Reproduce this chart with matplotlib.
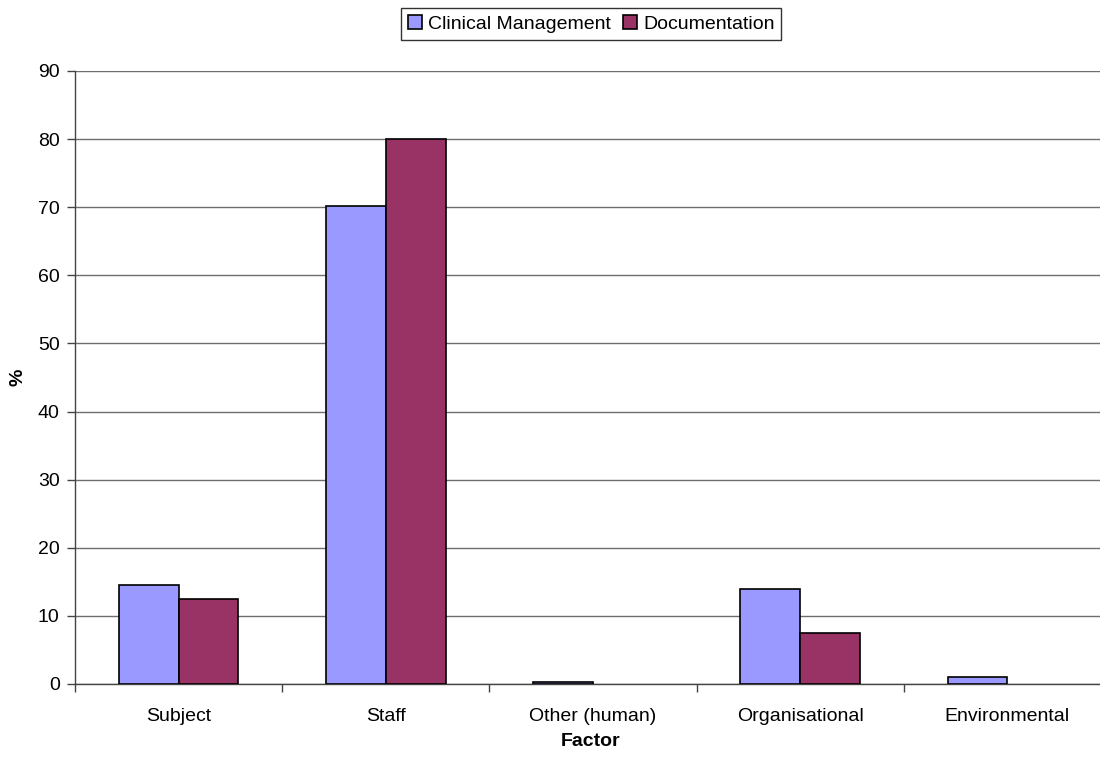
import matplotlib
matplotlib.use("Agg")
import matplotlib.pyplot as plt
import numpy as np

plt.rcParams['font.family'] = ['Liberation Sans', 'DejaVu Sans']

categories = ["Subject", "Staff", "Other (human)", "Organisational", "Environmental"]
clinical_management = [14.6, 70.2, 0.3, 13.9, 1.0]
documentation = [12.5, 80.0, 0.0, 7.5, 0.0]
series_names = ["Clinical Management", "Documentation"]
yticks = list(range(0, 91, 10))

fig = plt.figure(figsize=(11, 7.58), dpi=100)
ax = fig.add_axes([75/1100, 1-684/758, (1111-75)/1100, (684-71)/758])

x = np.arange(len(categories))
w = 0.2885
for offset, vals, color, name in [(-w, clinical_management, '#9999FF', series_names[0]),
                                  (0, documentation, '#993366', series_names[1])]:
    lws = [1.2 if v > 0 else 0 for v in vals]
    ax.bar(x + offset, vals, width=w, align='edge', color=color,
           edgecolor='black', linewidth=lws, label=name, zorder=3)

ax.set_xlim(-0.5, len(categories) - 0.5)
ax.set_ylim(0, 90)
ax.set_yticks(yticks)
ax.yaxis.grid(True, color='#6e6e6e', linewidth=1.0, zorder=0)
ax.set_axisbelow(True)

ax.set_xticks(np.arange(-0.5, len(categories) - 0.4, 1.0))
ax.set_xticklabels([])
ax.set_xticks(x, minor=True)
ax.set_xticklabels(categories, minor=True)
ax.tick_params(axis='x', which='major', length=6, width=1, color='#444444', direction='out')
ax.tick_params(axis='x', which='minor', length=0, labelsize=14, pad=17)
ax.tick_params(axis='y', length=6, width=1, color='#444444', labelsize=14, pad=5)

for s in ['top', 'right']:
    ax.spines[s].set_visible(False)
for s in ['left', 'bottom']:
    ax.spines[s].set_color('#444444')
    ax.spines[s].set_linewidth(1.0)

fig.text(591/1100, 1-742/758, "Factor", fontsize=14, fontweight='bold', ha='center', va='center')
fig.text(18/1100, 1-377/758, "%", fontsize=14, fontweight='bold', ha='center', va='center', rotation=90)

handles, labels = ax.get_legend_handles_labels()
leg = fig.legend(handles, labels, loc='center', bbox_to_anchor=(591/1100, 1-24/758), ncol=2,
                 frameon=True, fancybox=False, edgecolor='black', fontsize=14,
                 handlelength=0.75, handleheight=0.75, handletextpad=0.3,
                 columnspacing=0.6, borderpad=0.35, borderaxespad=0)
leg.get_frame().set_linewidth(1.0)
for h in leg.legend_handles:
    h.set_linewidth(1.2)

fig.savefig("out.png", dpi=100)
